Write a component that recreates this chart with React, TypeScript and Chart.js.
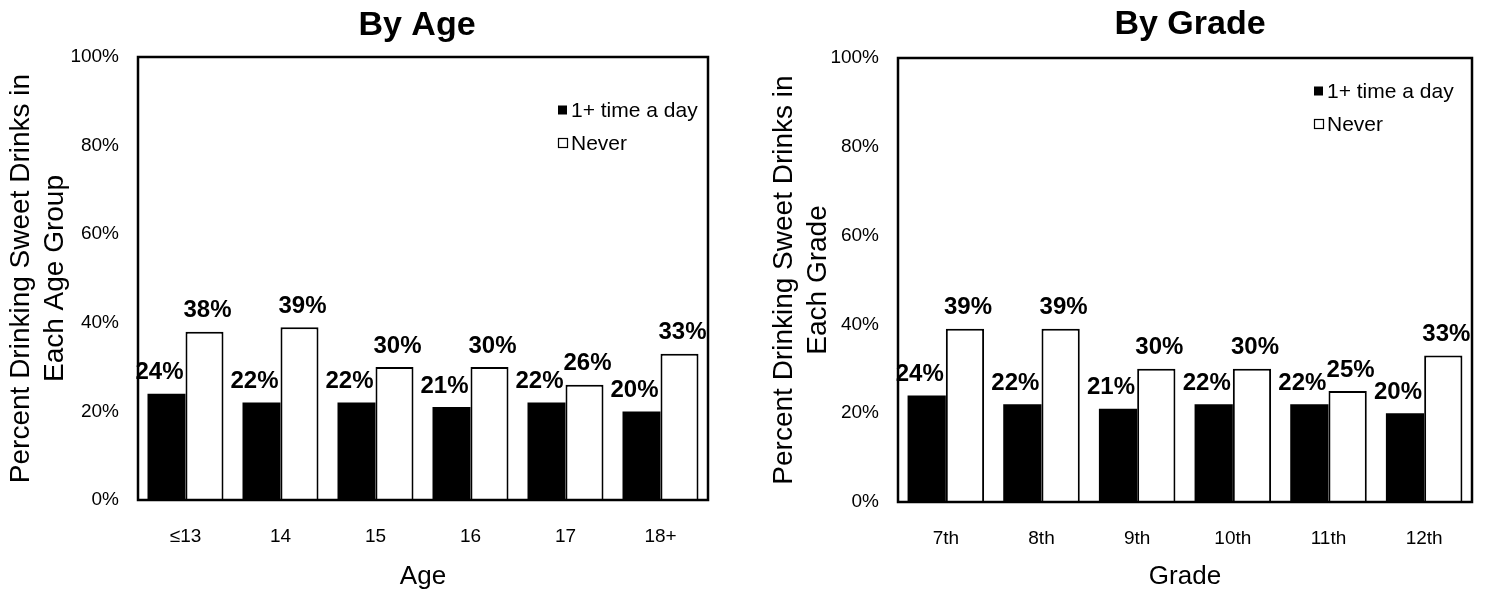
import React, { useEffect, useRef } from "react";
import { Chart, registerables } from "chart.js";

Chart.register(...registerables);

// ---- data ----
const ageLabels = ["≤13", "14", "15", "16", "17", "18+"];
const ageDaily = [24, 22, 22, 21, 22, 20];
const ageNever = [38, 39, 30, 30, 26, 33];

const gradeLabels = ["7th", "8th", "9th", "10th", "11th", "12th"];
const gradeDaily = [24, 22, 21, 22, 22, 20];
const gradeNever = [39, 39, 30, 30, 25, 33];

const yTicks = [0, 20, 40, 60, 80, 100];
const seriesNames = ["1+ time a day", "Never"];

const FONT = "'Liberation Sans', Arial, Helvetica, sans-serif";

type Layout = {
  left: number;
  right: number;
  top: number;
  bottom: number;
  titleX: number;
  titleY: number;
  legendX: number;
  legendY: number;
  yTitlePad: number;
};

type PanelProps = {
  title: string;
  labels: string[];
  daily: number[];
  never: number[];
  xTitle: string;
  yTitle: string[];
  layout: Layout;
};

const W = 744;
const H = 596;

function Panel({ title, labels, daily, never, xTitle, yTitle, layout }: PanelProps) {
  const ref = useRef<HTMLCanvasElement | null>(null);

  useEffect(() => {
    if (!ref.current) return;

    const overlay = {
      id: "overlay",
      afterDatasetsDraw(chart: any) {
        const { ctx, chartArea } = chart;
        ctx.save();
        // frame
        ctx.strokeStyle = "#000";
        ctx.lineWidth = 2.5;
        ctx.strokeRect(chartArea.left, chartArea.top, chartArea.right - chartArea.left, chartArea.bottom - chartArea.top);

        // data labels
        ctx.fillStyle = "#000";
        ctx.font = `bold 24px ${FONT}`;
        ctx.textBaseline = "middle";
        ctx.textAlign = "center";
        chart.data.datasets.forEach((ds: any, di: number) => {
          const meta = chart.getDatasetMeta(di);
          meta.data.forEach((bar: any, i: number) => {
            const v = ds.data[i];
            const dx = di === 0 ? -7 : 3;
            ctx.fillText(`${v}%`, bar.x + dx, bar.y - 21);
          });
        });

        // title
        ctx.font = `bold 34px ${FONT}`;
        ctx.textAlign = "center";
        ctx.textBaseline = "alphabetic";
        ctx.fillText(title, layout.titleX, layout.titleY);

        // legend
        ctx.font = `21px ${FONT}`;
        ctx.textAlign = "left";
        ctx.textBaseline = "middle";
        seriesNames.forEach((name, i) => {
          const cy = layout.legendY + i * 33;
          if (i === 0) {
            ctx.fillStyle = "#000";
            ctx.fillRect(layout.legendX, cy - 4.5, 9, 9);
          } else {
            ctx.fillStyle = "#fff";
            ctx.fillRect(layout.legendX, cy - 4.5, 9, 9);
            ctx.strokeStyle = "#000";
            ctx.lineWidth = 1.2;
            ctx.strokeRect(layout.legendX + 0.5, cy - 4.5, 9, 9);
          }
          ctx.fillStyle = "#000";
          ctx.fillText(name, layout.legendX + 13, cy + 1);
        });
        ctx.restore();
      },
    };

    const chart = new Chart(ref.current, {
      type: "bar",
      data: {
        labels,
        datasets: [
          {
            label: seriesNames[0],
            data: daily,
            backgroundColor: "#000",
            borderColor: "#000",
            borderWidth: 0,
            categoryPercentage: 0.8,
            barPercentage: 1.0,
          },
          {
            label: seriesNames[1],
            data: never,
            backgroundColor: "#fff",
            borderColor: "#000",
            borderWidth: 2,
            categoryPercentage: 0.8,
            barPercentage: 1.0,
          },
        ],
      },
      options: {
        responsive: false,
        animation: false,
        events: [],
        layout: {
          padding: { left: 0, right: W - layout.right, top: layout.top, bottom: 0 },
        },
        plugins: {
          legend: { display: false },
          title: { display: false },
          tooltip: { enabled: false },
        },
        scales: {
          x: {
            grid: { display: false, drawTicks: false },
            border: { display: false },
            ticks: {
              color: "#000",
              font: { family: FONT, size: 19 },
              padding: 25,
              maxRotation: 0,
              autoSkip: false,
            },
            title: {
              display: true,
              text: xTitle,
              color: "#000",
              font: { family: FONT, size: 26 },
              padding: { top: 0, bottom: 3.5 },
            },
            afterFit: (s: any) => {
              s.height = H - layout.bottom;
            },
          },
          y: {
            min: 0,
            max: 100,
            grid: { display: false, drawTicks: false },
            border: { display: false },
            afterBuildTicks: (s: any) => {
              s.ticks = yTicks.map((v) => ({ value: v }));
            },
            ticks: {
              color: "#000",
              font: { family: FONT, size: 19 },
              padding: 19,
              callback: (v: any) => `${v}%`,
            },
            title: {
              display: true,
              text: yTitle,
              color: "#000",
              font: { family: FONT, size: 28, lineHeight: "34px" },
              padding: { top: layout.yTitlePad, bottom: 0 },
            },
            afterFit: (s: any) => {
              s.width = layout.left;
            },
          },
        },
      },
      plugins: [overlay],
    });

    return () => chart.destroy();
  }, []);

  return <canvas ref={ref} width={W} height={H} style={{ display: "block", width: W, height: H }} />;
}

export default function App() {
  return (
    <div style={{ position: "absolute", left: 0, top: 0, width: 1488, height: 596, display: "flex", background: "#fff" }}>
      <Panel
        title="By Age"
        labels={ageLabels}
        daily={ageDaily}
        never={ageNever}
        xTitle="Age"
        yTitle={["Percent Drinking Sweet Drinks in", "Each Age Group"]}
        layout={{ left: 138, right: 708, top: 57, bottom: 500, titleX: 417, titleY: 35, legendX: 558, legendY: 110, yTitlePad: 4 }}
      />
      <Panel
        title="By Grade"
        labels={gradeLabels}
        daily={gradeDaily}
        never={gradeNever}
        xTitle="Grade"
        yTitle={["Percent Drinking Sweet Drinks in", "Each Grade"]}
        layout={{ left: 154, right: 728, top: 58, bottom: 502, titleX: 446, titleY: 34, legendX: 570, legendY: 91, yTitlePad: 23 }}
      />
    </div>
  );
}
